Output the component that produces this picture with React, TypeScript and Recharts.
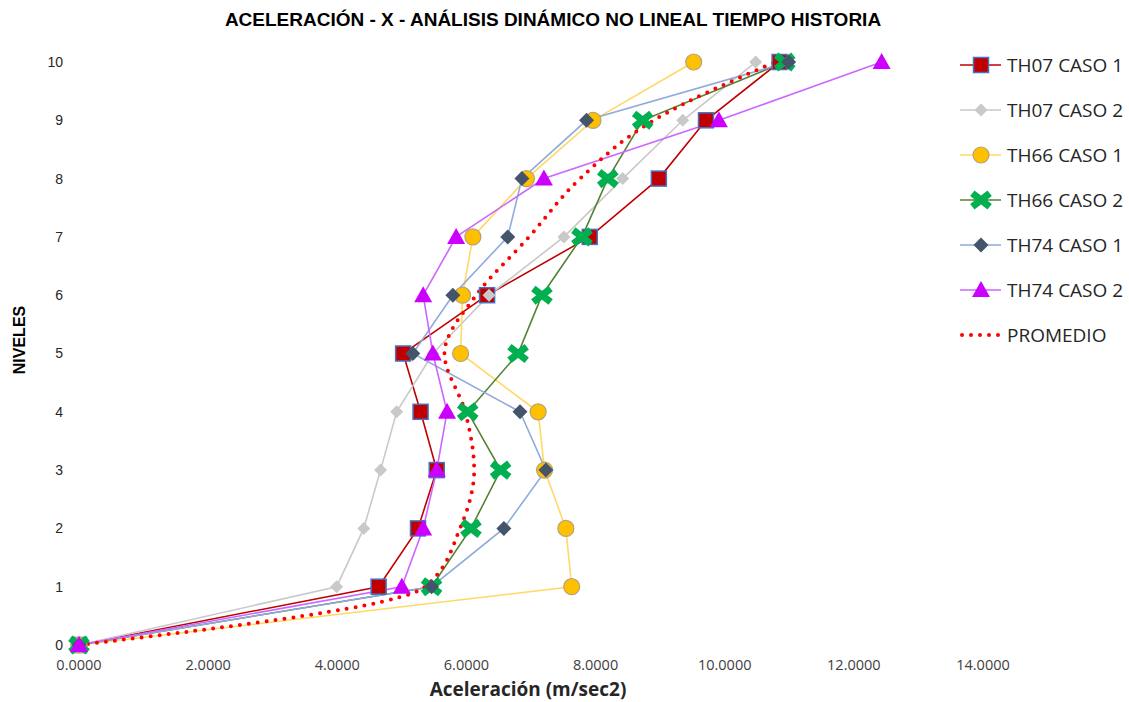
import React from "react";
import { ComposedChart, Line, XAxis, YAxis, Label } from "recharts";

// niveles del edificio (eje vertical)
const levels = [0, 1, 2, 3, 4, 5, 6, 7, 8, 9, 10];

// aceleraciones (m/sec2), del nivel 0 al 10
const th07Caso1 = [0, 4.64, 5.25, 5.54, 5.29, 5.02, 6.32, 7.91, 8.98, 9.71, 10.85];
const th07Caso2 = [0, 3.99, 4.41, 4.67, 4.92, 5.48, 6.35, 7.51, 8.42, 9.35, 10.48];
const th66Caso1 = [0, 7.63, 7.54, 7.21, 7.11, 5.91, 5.94, 6.1, 6.93, 7.96, 9.52];
const th66Caso2 = [0, 5.46, 6.07, 6.53, 6.02, 6.8, 7.17, 7.79, 8.19, 8.73, 10.93];
const th74Caso1 = [0, 5.46, 6.58, 7.23, 6.83, 5.17, 5.79, 6.64, 6.86, 7.86, 10.99];
const th74Caso2 = [0, 5.0, 5.33, 5.54, 5.7, 5.48, 5.33, 5.84, 7.2, 9.91, 12.43];
const promedio = [0, 5.36, 5.9, 6.12, 5.98, 5.66, 6.15, 6.97, 7.76, 8.9, 10.78];

const xTicks = [0, 2, 4, 6, 8, 10, 12, 14];

const series = [
  { key: "th07c1", name: "TH07 CASO 1", values: th07Caso1, color: "#C00000", marker: "square" },
  { key: "th07c2", name: "TH07 CASO 2", values: th07Caso2, color: "#C9C9C9", marker: "diamondLight" },
  { key: "th66c1", name: "TH66 CASO 1", values: th66Caso1, color: "#FFD966", marker: "circle" },
  { key: "th66c2", name: "TH66 CASO 2", values: th66Caso2, color: "#548235", marker: "x" },
  { key: "th74c1", name: "TH74 CASO 1", values: th74Caso1, color: "#8FAADC", marker: "diamondDark" },
  { key: "th74c2", name: "TH74 CASO 2", values: th74Caso2, color: "#CC66FF", marker: "triangle" },
];

const data = levels.map((level, i) => {
  const row: Record<string, number> = { level, promedio: promedio[i] };
  series.forEach((s) => (row[s.key] = s.values[i]));
  return row;
});

const Marker = ({ kind, cx, cy }: { kind: string; cx: number; cy: number }) => {
  switch (kind) {
    case "square":
      return <rect x={cx - 7.5} y={cy - 7.5} width={15} height={15} fill="#C00000" stroke="#4472C4" strokeWidth={1.5} />;
    case "diamondLight":
      return <polygon points={`${cx},${cy - 6.5} ${cx + 6.5},${cy} ${cx},${cy + 6.5} ${cx - 6.5},${cy}`} fill="#C9C9C9" />;
    case "circle":
      return <circle cx={cx} cy={cy} r={8} fill="#FFC000" stroke="#B4A37A" strokeWidth={1.2} />;
    case "x":
      return (
        <g fill="#00B050">
          <rect x={cx - 11} y={cy - 3.5} width={22} height={7} transform={`rotate(38 ${cx} ${cy})`} />
          <rect x={cx - 11} y={cy - 3.5} width={22} height={7} transform={`rotate(-38 ${cx} ${cy})`} />
        </g>
      );
    case "diamondDark":
      return <polygon points={`${cx},${cy - 7.5} ${cx + 7.5},${cy} ${cx},${cy + 7.5} ${cx - 7.5},${cy}`} fill="#44546A" />;
    case "triangle":
      return <polygon points={`${cx},${cy - 9} ${cx + 9},${cy + 7} ${cx - 9},${cy + 7}`} fill="#CC00FF" />;
    default:
      return null;
  }
};

const renderDot = (kind: string) => (p: any) => (
  <g key={`${kind}-${p.index}`}>
    <Marker kind={kind} cx={p.cx} cy={p.cy} />
  </g>
);

const Legend = () => (
  <div style={{ position: "absolute", left: 960, top: 0 }}>
    {series.map((s, i) => (
      <div key={s.key} style={{ position: "absolute", top: 65 + i * 45 - 12, height: 24, display: "flex", alignItems: "center", whiteSpace: "nowrap" }}>
        <svg width={42} height={24}>
          <line x1={0} y1={12} x2={41} y2={12} stroke={s.color} strokeWidth={1.6} />
          <Marker kind={s.marker} cx={21} cy={12} />
        </svg>
        <span style={{ marginLeft: 5, fontFamily: "Open Sans", fontSize: 19, color: "#262626" }}>{s.name}</span>
      </div>
    ))}
    <div style={{ position: "absolute", top: 65 + 6 * 45 - 12, height: 24, display: "flex", alignItems: "center", whiteSpace: "nowrap" }}>
      <svg width={42} height={24}>
        <line x1={2} y1={12} x2={40} y2={12} stroke="#FF0000" strokeWidth={4} strokeDasharray="0 9" strokeLinecap="round" />
      </svg>
      <span style={{ marginLeft: 5, fontFamily: "Open Sans", fontSize: 19, color: "#262626" }}>PROMEDIO</span>
    </div>
  </div>
);

export default function App() {
  return (
    <div style={{ position: "absolute", left: 0, top: 0, width: 1129, height: 702, background: "#fff" }}>
      <div
        style={{
          position: "absolute",
          left: 0,
          top: 9,
          width: 1106,
          textAlign: "center",
          fontFamily: "Liberation Sans, Arial",
          fontWeight: "bold",
          fontSize: 19,
          lineHeight: "22px",
          color: "#000",
        }}
      >
        ACELERACIÓN - X - ANÁLISIS DINÁMICO NO LINEAL TIEMPO HISTORIA
      </div>
      <ComposedChart
        width={1129}
        height={702}
        data={data}
        layout="vertical"
        margin={{ top: 62, right: 146, bottom: 0, left: 0 }}
      >
        <XAxis
          type="number"
          domain={[0, 14]}
          ticks={xTicks}
          interval={0}
          tickFormatter={(v: number) => v.toFixed(4)}
          axisLine={false}
          tickLine={false}
          tickSize={0}
          tickMargin={15}
          height={57}
          tick={{ fill: "#404040", fontSize: 14.5, fontFamily: "Open Sans" }}
        >
          <Label
            content={() => (
              <text x={528} y={696} textAnchor="middle" fontFamily="Open Sans" fontWeight="bold" fontSize={19} fill="#262626">
                Aceleración (m/sec2)
              </text>
            )}
          />
        </XAxis>
        <YAxis
          type="number"
          dataKey="level"
          domain={[0, 10]}
          ticks={levels}
          interval={0}
          reversed
          axisLine={false}
          tickLine={false}
          tickSize={0}
          tickMargin={16}
          width={79}
          tick={{ fill: "#262626", fontSize: 14, fontFamily: "Liberation Sans, Arial" }}
        >
          <Label
            content={() => (
              <text
                x={19}
                y={340}
                transform="rotate(-90 19 340)"
                textAnchor="middle"
                dominantBaseline="central"
                fontFamily="Liberation Sans, Arial"
                fontWeight="bold"
                fontSize={16}
                fill="#000"
              >
                NIVELES
              </text>
            )}
          />
        </YAxis>
        {series.map((s) => (
          <Line
            key={s.key}
            dataKey={s.key}
            name={s.name}
            type="linear"
            stroke={s.color}
            strokeWidth={1.6}
            dot={renderDot(s.marker)}
            activeDot={false}
            isAnimationActive={false}
          />
        ))}
        <Line
          dataKey="promedio"
          name="PROMEDIO"
          type="monotone"
          stroke="#FF0000"
          strokeWidth={4}
          strokeDasharray="0 9"
          strokeLinecap="round"
          dot={false}
          activeDot={false}
          isAnimationActive={false}
        />
      </ComposedChart>
      <Legend />
    </div>
  );
}
